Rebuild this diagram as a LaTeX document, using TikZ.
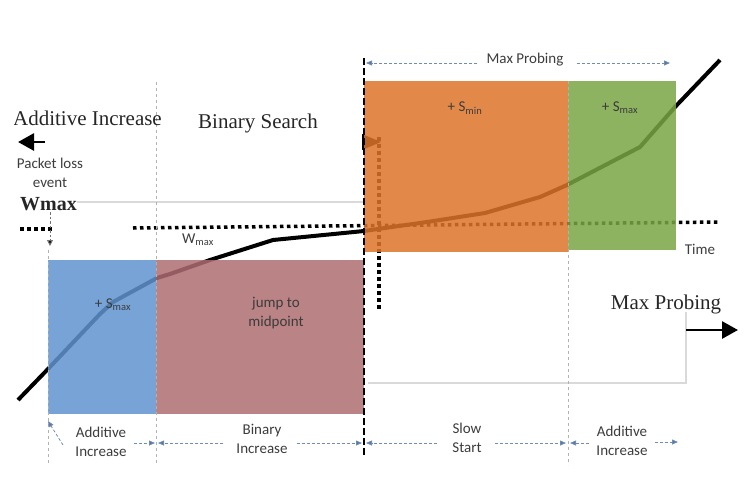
\documentclass[tikz,border=0pt]{standalone}
\usepackage{fontspec}
\setmainfont{Liberation Serif}
\newfontfamily\calibri{Carlito}
\usetikzlibrary{arrows.meta,positioning}

\definecolor{aiblue}{RGB}{96,147,208}
\definecolor{bimauve}{RGB}{174,109,113}
\definecolor{ssorange}{RGB}{221,116,42}
\definecolor{aigreen}{RGB}{121,164,68}
\definecolor{spanblue}{RGB}{110,140,180}
\definecolor{txtgray}{RGB}{60,60,60}

\tikzset{
  lbl/.style={font=\calibri\fontsize{15}{19}\selectfont,text=txtgray,align=center,inner sep=1pt},
  big/.style={font=\fontsize{21}{24}\selectfont,text=black!85,inner sep=0pt},
  band/.style={fill opacity=0.85},
  gap/.style={draw=black!30,dashed,line width=0.7pt},
  span/.style={draw=spanblue,dash pattern=on 3pt off 2pt,line width=0.8pt,
    -{Triangle[length=6pt,width=5pt,fill=spanblue!85!black]}},
  sqdots/.style={line width=3.5pt,dash pattern=on 3.5pt off 3.5pt},
  bigarrow/.style={line width=2.8pt,-{Triangle[length=16pt,width=17pt]}}
}

\begin{document}
\begin{tikzpicture}[x=1pt,y=-1pt]
  \useasboundingbox (0,0) rectangle (756,504);

  % faint slide edges
  \draw[black!15,line width=1.2pt] (77,202) -- (364,202);
  \draw[black!15,line width=1.2pt] (368,383) -- (686,383) -- (686,312);

  % window curve and the Wmax level
  \draw[line width=4pt,line join=round]
    (18,400) -- (48,369) -- (100,314) -- (113,302) -- (157,278) -- (170,274)
    -- (210,260) -- (273,240) -- (364,231) -- (427,222) -- (485,213)
    -- (540,197) -- (567,185) -- (590,173) -- (640,147) -- (675,107) -- (720,60);
  \draw[sqdots] (20,229) -- (53,229);
  \draw[sqdots] (133,228) -- (720,222);
  \draw[sqdots] (379,137) -- (379,310);
  \fill (362,134) -- (381,142) -- (362,150) -- cycle;

  % phases
  \fill[aiblue,band] (48,260) rectangle (156,414);
  \fill[bimauve,band] (156,260) rectangle (364,414);
  \fill[ssorange,band] (364,81) rectangle (568,252);
  \fill[aigreen,band] (568,81) rectangle (676,250);

  \draw[gap] (48,250) -- (48,465);
  \draw[gap] (156,82) -- (156,465);
  \draw[gap] (568,81) -- (568,465);
  \draw[line width=2.6pt,dash pattern=on 7pt off 3pt] (364,58) -- (364,455);

  % titles
  \begin{scope}
    \clip (14,95) rectangle (200,140);
    \node[big,anchor=base east] (aititle) at (162,125) {Additive Increase};
  \end{scope}
  \node[big,anchor=base] (bstitle) at (258,128) {Binary Search};
  \node[big,anchor=base] (mptitle) at (666,309) {Max Probing};
  \node[font=\bfseries\fontsize{20}{22}\selectfont,text=black!85,inner sep=0pt,anchor=base west]
    (wmtitle) at (20,210) {Wmax};

  \coordinate (leftend) at (18,142);
  \coordinate (rightend) at (738,330);
  \draw[bigarrow] (45,142) -- (leftend);
  \draw[bigarrow] (686,330) -- (rightend);

  % labels
  \node[lbl] (loss) at (50,173) {Packet loss\\event};
  \coordinate (losstip) at (50,246);
  \draw[draw=black!55,dash pattern=on 2.5pt off 2pt,line width=1pt,
    -{Triangle[length=6pt,width=6pt,fill=black]}] (50,212) -- (losstip);
  \node[lbl] (wmax) at (198,240) {W\textsubscript{max}};
  \node[lbl] (aiplus) at (113,305) {+ S\textsubscript{max}};
  \node[lbl] (jump) at (276,313) {jump to\\midpoint};
  \node[lbl] (ssplus) at (465,108) {+ S\textsubscript{min}};
  \node[lbl] (ai2plus) at (620,108) {+ S\textsubscript{max}};
  \node[lbl] (time) at (700,249) {Time};
  \node[lbl] (mp) at (525,60) {Max Probing};

  \node[lbl] (ai) at (101,442) {Additive\\Increase};
  \node[lbl] (bi) at (262,439) {Binary\\Increase};
  \node[lbl] (ss) at (467,438) {Slow\\Start};
  \node[lbl] (ai2) at (622,441) {Additive\\Increase};

  % spans
  \coordinate (mpl) at (366,63);
  \coordinate (mpr) at (670,63);
  \coordinate (ail) at (48,421);
  \coordinate (air) at (155,443);
  \coordinate (bil) at (158,443);
  \coordinate (bir) at (362,443);
  \coordinate (ssl) at (366,443);
  \coordinate (ssr) at (566,443);
  \coordinate (ai2l) at (570,443);
  \coordinate (ai2r) at (678,442);
  \draw[span] (mp.west |- mpl) ++(-8,0) -- (mpl);
  \draw[span] (mp.east |- mpr) ++(12,0) -- (mpr);
  \draw[span] (63,445) -- (ail);
  \draw[span] (ai.east |- air) ++(6,0) -- (air);
  \draw[span] (bi.west |- bil) ++(-12,0) -- (bil);
  \draw[span] (bi.east |- bir) ++(8,0) -- (bir);
  \draw[span] (ss.west |- ssl) ++(-14,0) -- (ssl);
  \draw[span] (ss.east |- ssr) ++(12,0) -- (ssr);
  \draw[span] (ai2.west |- ai2l) ++(-6,0) -- (ai2l);
  \draw[span] (ai2.east |- ai2r) ++(6,0) -- (ai2r);
\end{tikzpicture}
\end{document}
